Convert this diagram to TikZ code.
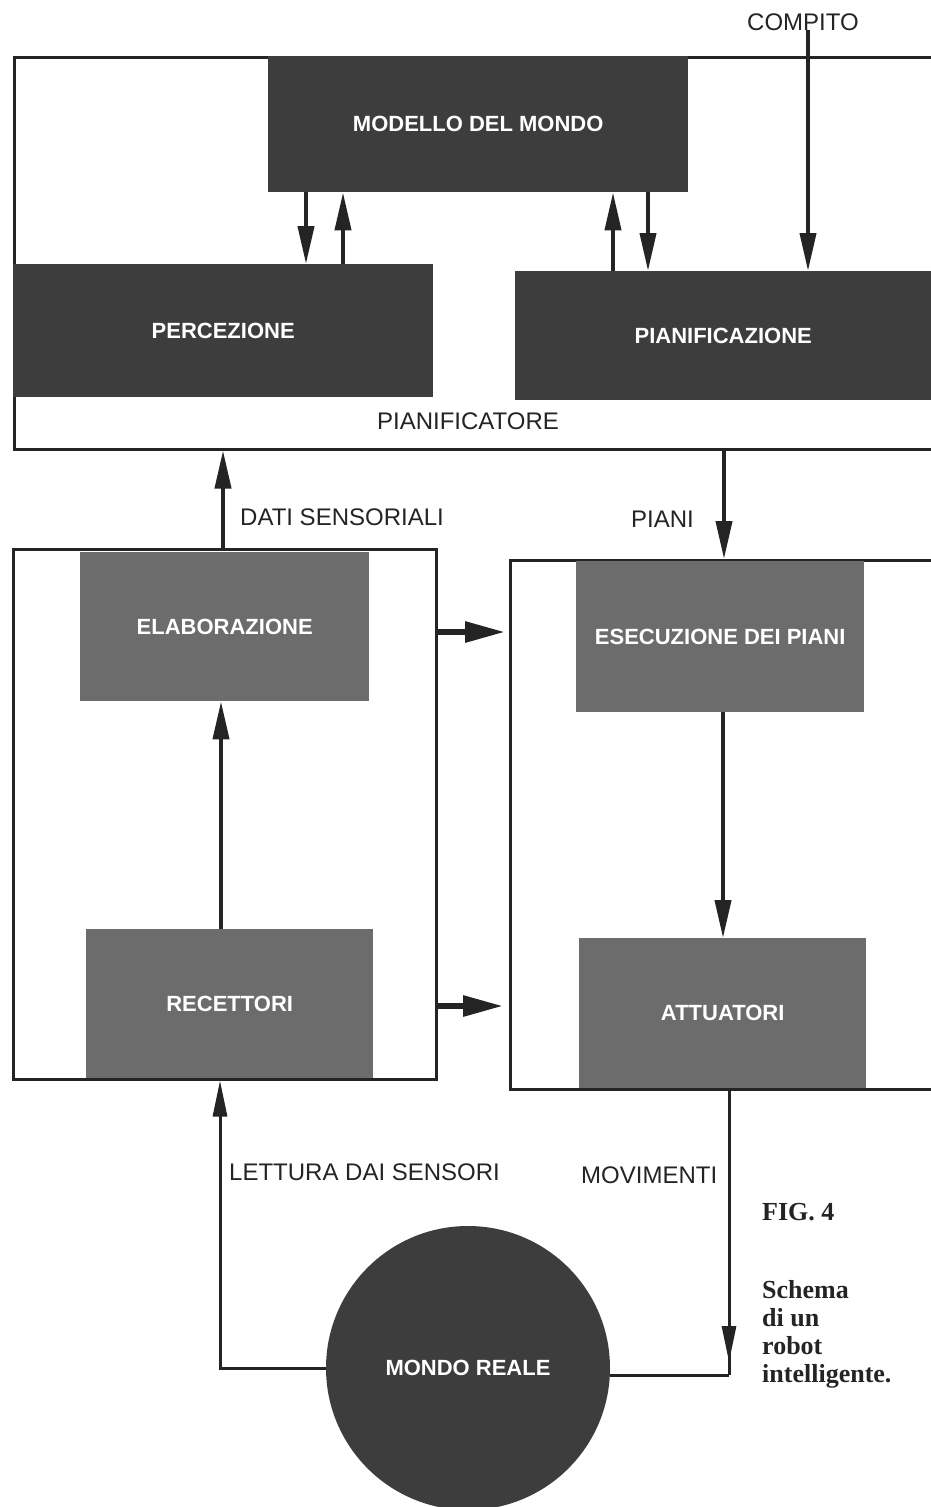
\documentclass[tikz,border=0pt]{standalone}
\usepackage{fontspec}
\setmainfont{Liberation Sans}
\newfontfamily\capfont{Liberation Serif}
\usetikzlibrary{arrows.meta,calc}
\definecolor{boxdark}{HTML}{3D3D3D}
\definecolor{boxmid}{HTML}{6C6C6C}
\definecolor{ink}{HTML}{242424}
\begin{document}
\begin{tikzpicture}[x=1pt,y=-1pt,
  darkbox/.style={fill=boxdark, draw=none, anchor=north west, inner sep=0pt, text=white,
    font=\bfseries\fontsize{22}{26}\selectfont},
  midbox/.style={fill=boxmid, draw=none, anchor=north west, inner sep=0pt, text=white,
    font=\bfseries\fontsize{22}{26}\selectfont},
  framebox/.style={draw=ink, line width=2.5pt, fill=white, anchor=north west, inner sep=0pt},
  lab/.style={text=ink, inner sep=0pt, anchor=base west, font=\fontsize{24}{28}\selectfont},
  arr/.style={draw=ink, line width=4pt, -{Triangle[length=38pt,width=16pt]}},
  harr/.style={draw=ink, line width=6pt, -{Triangle[length=40pt,width=20pt]}},
  fb/.style={draw=ink, line width=3pt},
  fbarr/.style={draw=ink, line width=3pt, -{Triangle[length=36pt,width=14pt]}},
  captext/.style={text=ink, inner sep=0pt, font=\capfont\bfseries\fontsize{26}{28}\selectfont}
]
\useasboundingbox (0,0) rectangle (931,1507);
\clip (0,0) rectangle (931,1507);

% top: planner
\node[framebox, minimum width=930pt, minimum height=392pt] (plan) at (13,56) {};
\node[darkbox, minimum width=420pt, minimum height=136pt] (modello) at (268,56) {MODELLO DEL MONDO};
\node[darkbox, minimum width=420pt, minimum height=133pt] (perc) at (13,264) {PERCEZIONE};
\node[darkbox, minimum width=416pt, minimum height=129pt] (pianif) at (515,271) {PIANIFICAZIONE};
\node[text=ink, inner sep=0pt, font=\fontsize{24}{28}\selectfont] (pianificatore) at (468,421) {PIANIFICATORE};
\node[text=ink, inner sep=0pt, font=\fontsize{24}{28}\selectfont] (compito) at (803,22) {COMPITO};

\coordinate (x306) at (306,0);
\coordinate (x343) at (343,0);
\coordinate (x613) at (613,0);
\coordinate (x648) at (648,0);
\coordinate (ctop) at (808,30);

\draw[arr] (modello.south -| x306) -- (perc.north -| x306);
\draw[arr] (perc.north -| x343) -- (modello.south -| x343);
\draw[arr] (pianif.north -| x613) -- (modello.south -| x613);
\draw[arr] (modello.south -| x648) -- (pianif.north -| x648);
\draw[arr] (ctop) -- (ctop |- pianif.north);

% middle
\node[framebox, minimum width=423pt, minimum height=530pt] (sensbox) at (12,548) {};
\node[midbox, minimum width=289pt, minimum height=149pt] (elab) at (80,552) {ELABORAZIONE};
\node[midbox, minimum width=287pt, minimum height=149pt] (recet) at (86,929) {RECETTORI};

\node[framebox, minimum width=431pt, minimum height=529pt] (execbox) at (509,559) {};
\node[midbox, minimum width=288pt, minimum height=151pt] (esec) at (576,561) {ESECUZIONE DEI PIANI};
\node[midbox, minimum width=287pt, minimum height=150pt] (attu) at (579,938) {ATTUATORI};

\coordinate (x223) at (223,0);
\coordinate (x221) at (221,0);
\coordinate (x724) at (724,0);
\coordinate (x723) at (723,0);
\coordinate (y632) at (0,632);
\coordinate (y1006) at (0,1006);

\draw[arr] (sensbox.north -| x223) -- (plan.south -| x223);
\draw[arr] (plan.south -| x724) -- (execbox.north -| x724);
\draw[arr] (recet.north -| x221) -- (elab.south -| x221);
\draw[arr] (esec.south -| x723) -- (attu.north -| x723);
\draw[harr, shorten >=4pt] (sensbox.east |- y632) -- (execbox.west |- y632);
\draw[harr, shorten >=6pt] (sensbox.east |- y1006) -- (execbox.west |- y1006) ;

\node[lab] (dati) at (240,525) {DATI SENSORIALI};
\node[lab] (piani) at (631,527) {PIANI};

% bottom
\node[circle, fill=boxdark, minimum size=284pt, inner sep=0pt, text=white,
  font=\bfseries\fontsize{22}{26}\selectfont] (mondo) at (468,1368) {MONDO REALE};
\coordinate (x220) at (220,0);
\coordinate (rc) at (729,1375);
\coordinate (rtip) at (729,1362);

\draw[fbarr] (mondo.west) -| (x220 |- sensbox.south);
\draw[fb] (rc -| mondo.east) -- (rc);
\draw[fb] (attu.south -| rc) -- (rc);
\draw[fbarr] (attu.south -| rc) -- (rtip);

\node[lab] (lettura) at (229,1180) {LETTURA DAI SENSORI};
\node[lab] (movimenti) at (581,1183) {MOVIMENTI};

\node[captext, anchor=base west] (fig) at (762,1220) {FIG. 4};
\node[captext, anchor=north west, align=left] (caption) at (762,1280) {Schema\\di un\\robot\\intelligente.};
\end{tikzpicture}
\end{document}
